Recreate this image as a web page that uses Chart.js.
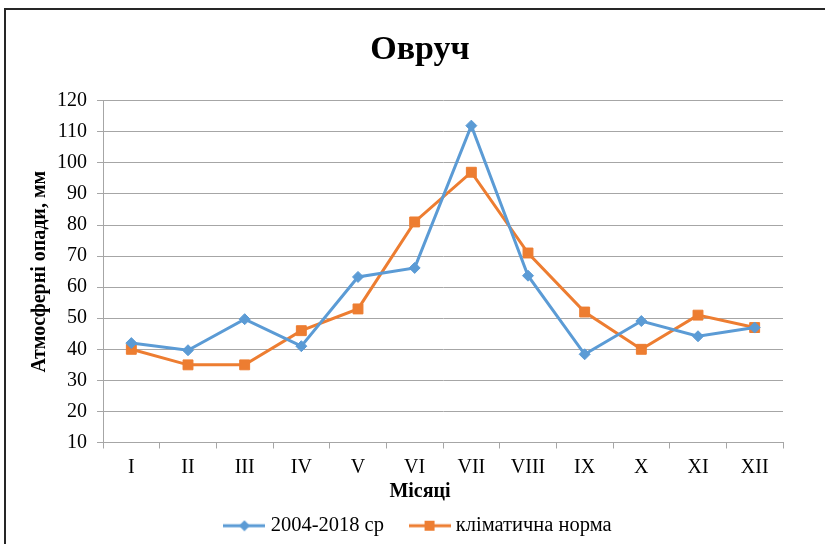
<!DOCTYPE html>
<html>
<head>
<meta charset="utf-8">
<script src="https://cdn.jsdelivr.net/npm/chart.js@4"></script>
<style>
  html, body { margin: 0; padding: 0; background: #fff; overflow: hidden; }
  #wrap { position: relative; width: 825px; height: 544px; }
  #frame { position: absolute; left: 4px; top: 8px; width: 900px; height: 700px; border: 2px solid #262626; pointer-events: none; }
</style>
</head>
<body>
<div id="wrap">
  <canvas id="rainChart" width="825" height="544"></canvas>
  <div id="frame"></div>
</div>
<script>
// Data
const months = ['I','II','III','IV','V','VI','VII','VIII','IX','X','XI','XII'];
const avg2004_2018 = [42, 39.7, 49.7, 41, 63.3, 66.2, 112, 63.7, 38.4, 49.1, 44.2, 47];
const climateNorm = [40, 35, 35, 46, 53, 81, 97, 71, 52, 40, 51, 47];
const yMin = 10, yMax = 120, yStep = 10;
const seriesNames = ['2004-2018 ср', 'кліматична норма'];

const blue = '#5b9bd5', orange = '#ed7d31', gridCol = '#a6a6a6';
const serif = "'Liberation Serif', 'Times New Roman', serif";

// legend icons: line with marker in the middle
function legendIcon(color, shape) {
  const c = document.createElement('canvas');
  c.width = 42; c.height = 12;
  const g = c.getContext('2d');
  g.strokeStyle = color; g.lineWidth = 3;
  g.beginPath(); g.moveTo(0, 6); g.lineTo(42, 6); g.stroke();
  g.fillStyle = color;
  if (shape === 'diamond') {
    g.beginPath(); g.moveTo(21, 0.5); g.lineTo(26.5, 6); g.lineTo(21, 11.5); g.lineTo(15.5, 6); g.closePath(); g.fill();
  } else {
    g.fillRect(16, 1, 10, 10);
  }
  return c;
}
const icons = [legendIcon(blue, 'diamond'), legendIcon(orange, 'square')];

Chart.defaults.font.family = serif;
Chart.defaults.color = '#000';

new Chart(document.getElementById('rainChart'), {
  type: 'line',
  data: {
    labels: months,
    datasets: [
      {label: seriesNames[0], data: avg2004_2018, borderColor: blue, backgroundColor: blue, borderWidth: 3,
        pointStyle: 'rectRot', pointRadius: 5.5, pointBorderWidth: 1, pointBorderColor: blue, tension: 0},
      {label: seriesNames[1], data: climateNorm, borderColor: orange, backgroundColor: orange, borderWidth: 3,
        pointStyle: 'rect', pointRadius: 7, pointBorderWidth: 1, pointBorderColor: orange, tension: 0}
    ]
  },
  options: {
    responsive: false,
    animation: false,
    events: [],
    layout: {padding: {left: 15, right: 0, top: 10, bottom: -2}},
    plugins: {
      title: {display: true, text: 'Овруч', color: '#000',
        font: {family: serif, size: 34, weight: 'bold'}, padding: {top: 20, bottom: 30}},
      subtitle: {display: true, text: 'Місяці', position: 'bottom', weight: 500, color: '#000',
        font: {family: serif, size: 20, weight: 'bold'}, padding: {top: 0, bottom: 8}},
      legend: {position: 'bottom', weight: 1000,
        labels: {usePointStyle: true, pointStyleWidth: 32, padding: 4, color: '#000',
          font: {family: serif, size: 20.5},
          generateLabels: chart => Chart.defaults.plugins.legend.labels.generateLabels(chart).map((it, i) => {
            it.pointStyle = icons[i];
            if (i === 0) it.text = it.text + '     ';
            return it;
          })}},
      tooltip: {enabled: false}
    },
    scales: {
      x: {
        offset: true,
        grid: {offset: true, drawOnChartArea: false, drawTicks: true, tickLength: 6, color: gridCol},
        border: {display: true, color: gridCol},
        ticks: {font: {family: serif, size: 20}, color: '#000', padding: 7, maxRotation: 0, autoSkip: false},
        afterFit: s => { s.height = 37; }
      },
      y: {
        min: yMin, max: yMax,
        grid: {color: gridCol, tickLength: 6},
        border: {display: true, color: gridCol},
        ticks: {stepSize: yStep, font: {family: serif, size: 20}, color: '#000', padding: 10},
        title: {display: true, text: 'Атмосферні опади, мм', color: '#000',
          font: {family: serif, size: 20, weight: 'bold'}, padding: {top: 13, bottom: 0}},
        afterFit: s => { s.width = 88; }
      },
      yr: {
        position: 'right', display: true,
        grid: {display: false, drawTicks: false},
        border: {display: false},
        ticks: {display: false},
        afterFit: s => { s.width = 42; }
      }
    }
  }
});
</script>
</body>
</html>
